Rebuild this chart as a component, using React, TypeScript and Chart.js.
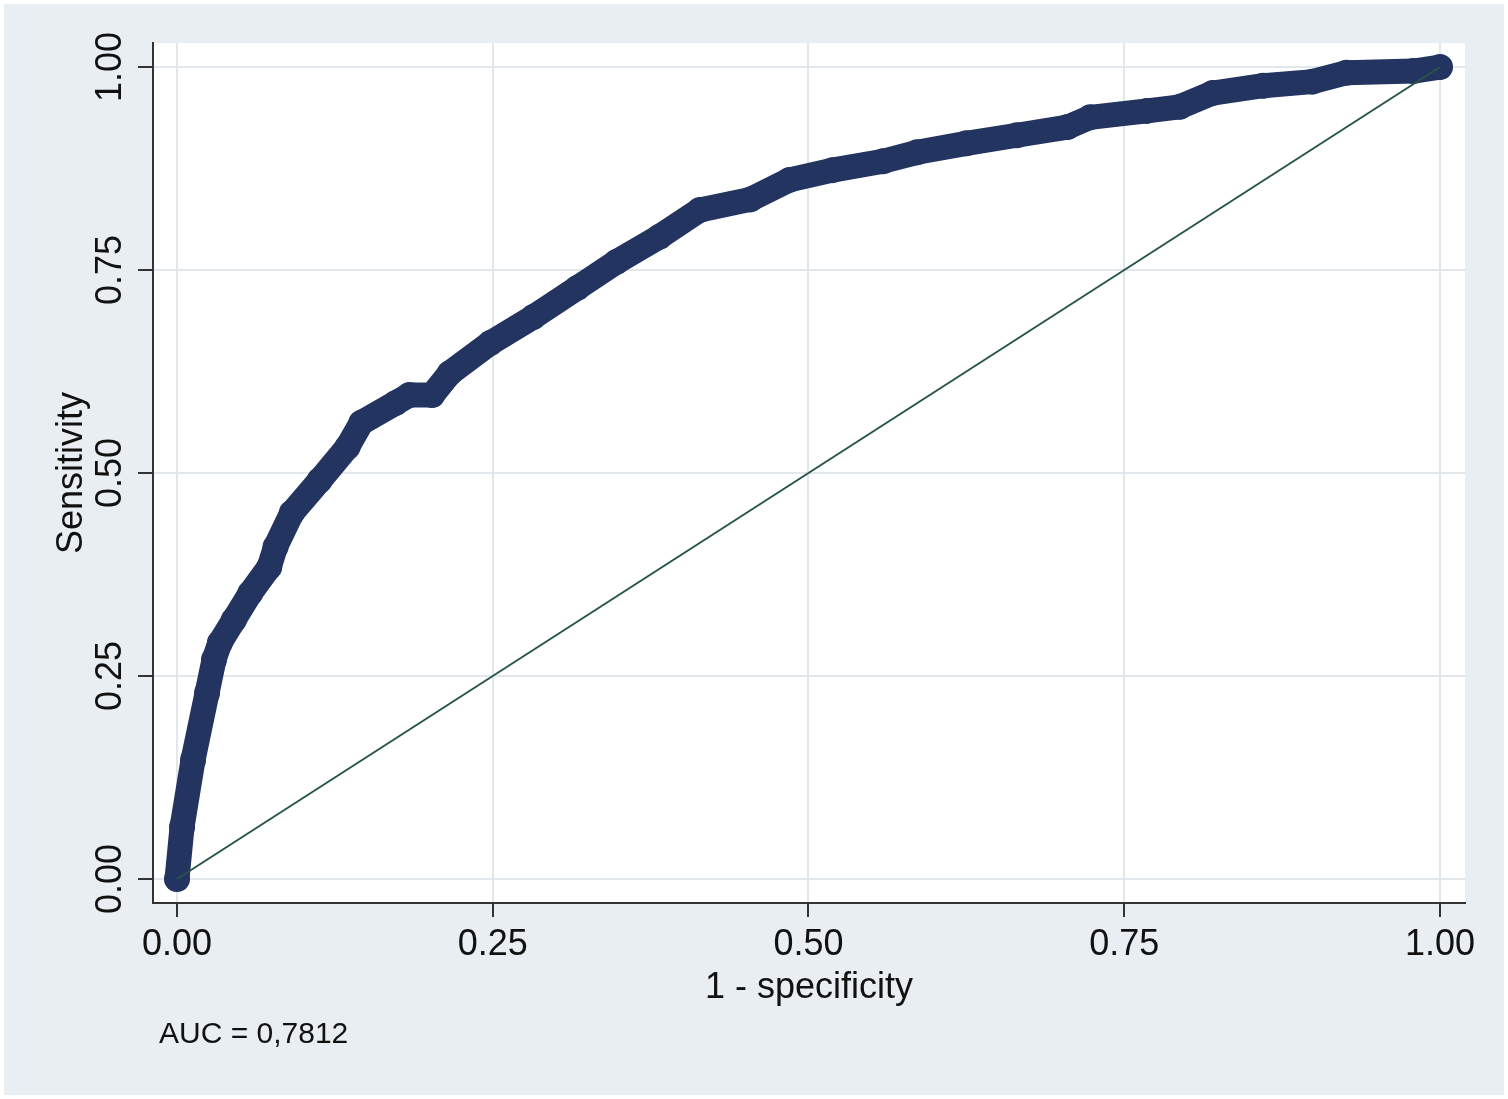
import React, { useEffect, useRef } from "react";
import { Chart, registerables } from "chart.js";

Chart.register(...registerables);

// ROC curve (1 - specificity, sensitivity)
const FPR = [
  0, 0.004, 0.0127, 0.0238, 0.0293, 0.034, 0.045, 0.058, 0.073, 0.078, 0.091,
  0.113, 0.135, 0.146, 0.173, 0.184, 0.202, 0.216, 0.248, 0.282, 0.317, 0.348,
  0.382, 0.414, 0.454, 0.485, 0.519, 0.559, 0.586, 0.625, 0.665, 0.705, 0.723,
  0.768, 0.794, 0.82, 0.86, 0.899, 0.926, 0.979, 1,
];
const TPR = [
  0, 0.064, 0.1466, 0.229, 0.27, 0.291, 0.319, 0.352, 0.384, 0.409, 0.451,
  0.491, 0.532, 0.562, 0.586, 0.596, 0.596, 0.623, 0.66, 0.692, 0.728, 0.76,
  0.791, 0.824, 0.837, 0.861, 0.873, 0.884, 0.895, 0.906, 0.916, 0.926, 0.938,
  0.946, 0.951, 0.968, 0.977, 0.982, 0.993, 0.995, 1,
];
const REF_X = [0, 1];
const REF_Y = [0, 1];
const TICKS = [0, 0.25, 0.5, 0.75, 1];
const X_TITLE = "1 - specificity";
const Y_TITLE = "Sensitivity";
const NOTE = "AUC = 0,7812";

const FONT = "'Liberation Sans', Arial, Helvetica, sans-serif";

export default function App() {
  const ref = useRef<HTMLCanvasElement | null>(null);

  useEffect(() => {
    document.body.style.margin = "0";
    const canvas = ref.current;
    if (!canvas) return;

    const bgPlugin = {
      id: "bgPlugin",
      beforeDraw(chart: any) {
        const { ctx, chartArea: a } = chart;
        ctx.save();
        ctx.fillStyle = "#ffffff";
        ctx.fillRect(0, 0, chart.width, chart.height);
        ctx.fillStyle = "#E8EEF1";
        ctx.fillRect(4, 4, chart.width - 8, chart.height - 8);
        ctx.fillStyle = "#ffffff";
        ctx.fillRect(a.left, a.top, a.right - a.left, a.bottom - a.top);
        ctx.restore();
      },
    };
    const notePlugin = {
      id: "notePlugin",
      afterDraw(chart: any) {
        const { ctx } = chart;
        ctx.save();
        ctx.font = `30px ${FONT}`;
        ctx.fillStyle = "#111111";
        ctx.textAlign = "left";
        ctx.textBaseline = "middle";
        ctx.fillText(NOTE, 159, 1035);
        ctx.restore();
      },
    };

    const chart = new Chart(canvas, {
      type: "line",
      data: {
        datasets: [
          {
            label: "Reference",
            data: REF_X.map((x, i) => ({ x, y: REF_Y[i] })),
            borderColor: "#285646",
            borderWidth: 2,
            pointRadius: 0,
            order: 0,
          },
          {
            label: "ROC",
            data: FPR.map((x, i) => ({ x, y: TPR[i] })),
            borderColor: "#22345F",
            backgroundColor: "#22345F",
            borderWidth: 25,
            borderJoinStyle: "round",
            borderCapStyle: "round",
            pointRadius: 13,
            pointBorderWidth: 0,
            pointBackgroundColor: "#22345F",
            order: 1,
          },
        ],
      },
      options: {
        responsive: false,
        animation: false,
        layout: { padding: { left: 0, right: 43, top: 43, bottom: 89 } },
        plugins: {
          legend: { display: false },
          tooltip: { enabled: false },
        },
        scales: {
          x: {
            type: "linear",
            min: -0.019,
            max: 1.0198,
            afterBuildTicks: (s: any) => {
              s.ticks = TICKS.map((v) => ({ value: v }));
            },
            afterFit: (s: any) => {
              s.height = 107;
            },
            ticks: {
              callback: (v: any) => Number(v).toFixed(2),
              font: { family: FONT, size: 36, lineHeight: 1.2 },
              color: "#111111",
              padding: 6,
              maxRotation: 0,
              minRotation: 0,
            },
            grid: {
              color: "#E1E7EB",
              lineWidth: 2,
              tickColor: "#333333",
              tickLength: 14,
              tickWidth: 2,
            },
            border: { display: true, color: "#333333", width: 2 },
            title: {
              display: true,
              text: X_TITLE,
              font: { family: FONT, size: 36, lineHeight: 1.2 },
              color: "#111111",
              padding: { top: 0, bottom: 0 },
            },
          },
          y: {
            type: "linear",
            min: -0.0296,
            max: 1.0296,
            afterBuildTicks: (s: any) => {
              s.ticks = TICKS.map((v) => ({ value: v }));
            },
            afterFit: (s: any) => {
              s.width = 153;
            },
            ticks: {
              callback: (v: any) => Number(v).toFixed(2),
              font: { family: FONT, size: 36, lineHeight: 1.2 },
              color: "#111111",
              padding: -8,
              minRotation: 90,
              maxRotation: 90,
              crossAlign: "center",
            },
            grid: {
              color: "#E1E7EB",
              lineWidth: 2,
              tickColor: "#333333",
              tickLength: 15,
              tickWidth: 2,
            },
            border: { display: true, color: "#333333", width: 2 },
            title: {
              display: true,
              text: Y_TITLE,
              font: { family: FONT, size: 36, lineHeight: 1.2 },
              color: "#111111",
              padding: { top: 50, bottom: 0 },
            },
          },
        },
      },
      plugins: [bgPlugin, notePlugin],
    } as any);

    return () => {
      chart.destroy();
    };
  }, []);

  return (
    <canvas
      ref={ref}
      width={1508}
      height={1099}
      style={{ display: "block", width: 1508, height: 1099 }}
    />
  );
}
